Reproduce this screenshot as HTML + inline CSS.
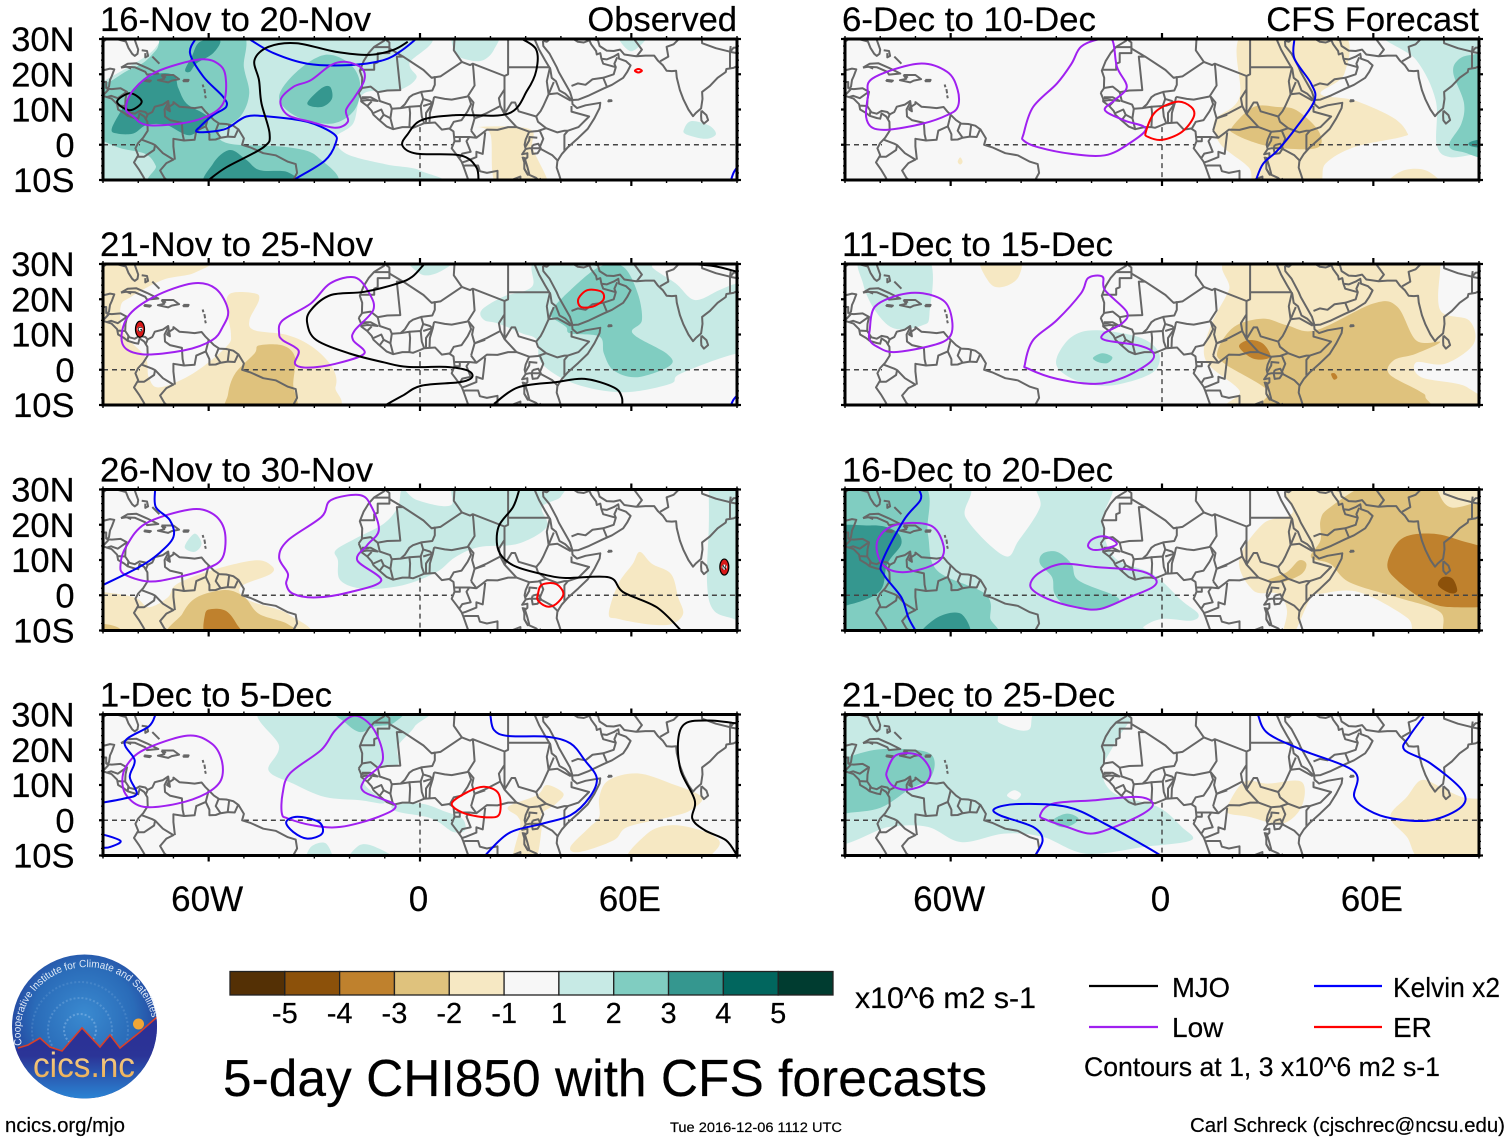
<!DOCTYPE html>
<html lang="en">
<head>
<meta charset="utf-8">
<title>5-day CHI850 with CFS forecasts</title>
<style>
html,body{margin:0;padding:0;background:#fff;}
svg{display:block;}
text{font-family:"Liberation Sans",Arial,Helvetica,sans-serif;fill:#000;stroke:#000;stroke-width:.2px;}
</style>
</head>
<body>
<svg id="chart" width="1510" height="1142" viewBox="0 0 1510 1142" xmlns="http://www.w3.org/2000/svg">
<defs>
<radialGradient id="logo-bg" cx="50%" cy="42%" r="58%"><stop offset="0" stop-color="#3a8ad0"/><stop offset="0.6" stop-color="#2a6bb8"/><stop offset="1" stop-color="#233a98"/></radialGradient>
<linearGradient id="logo-low" gradientUnits="userSpaceOnUse" x1="0" y1="1020" x2="0" y2="1100"><stop offset="0" stop-color="#2b2f95"/><stop offset="0.45" stop-color="#2b3497"/><stop offset="0.75" stop-color="#2a62b8"/><stop offset="1" stop-color="#2a86d6"/></linearGradient>
<linearGradient id="logo-word" x1="0" y1="0" x2="0" y2="1"><stop offset="0" stop-color="#f6d79a"/><stop offset="1" stop-color="#eba94a"/></linearGradient>
<clipPath id="logo-clip"><ellipse cx="84.5" cy="1026.5" rx="72.5" ry="72"/></clipPath>
<path id="logo-arc" d="M 22 1045 A 64 62 0 1 1 152 1018"/>
</defs>
<g id="panels"></g>

<g>
<ellipse cx="84.5" cy="1026.5" rx="72.5" ry="72" fill="url(#logo-bg)"/>
<g clip-path="url(#logo-clip)">
<circle cx="80" cy="1030" r="16" fill="none" stroke="#9cc4ea" stroke-opacity=".45" stroke-width="2" stroke-dasharray="2 2"/>
<circle cx="80" cy="1030" r="32" fill="none" stroke="#9cc4ea" stroke-opacity=".3" stroke-width="2" stroke-dasharray="2 2"/>
<circle cx="80" cy="1030" r="48" fill="none" stroke="#9cc4ea" stroke-opacity=".2" stroke-width="2" stroke-dasharray="2 2"/>
<polygon points="5,1052 18,1048 28,1045 40,1038 50,1047 62,1051 82,1028 100,1047 110,1035 120,1048 140,1032 157,1017 170,1010 170,1110 0,1110" fill="url(#logo-low)" stroke="none"/>
<polyline points="18,1048 28,1045 40,1038 50,1047 62,1051 82,1028 100,1047 110,1035 120,1048 140,1032 157,1017" fill="none" stroke="#d8402a" stroke-width="1.6"/>
<circle cx="138.5" cy="1024" r="5.5" fill="#f0a637"/>
</g>
<text font-size="10.5" style="fill:#dfe9f6;stroke:none"><textPath href="#logo-arc" textLength="205" lengthAdjust="spacingAndGlyphs">Cooperative Institute for Climate and Satellites</textPath></text>
<text x="84" y="1077" font-size="35" text-anchor="middle" textLength="102" lengthAdjust="spacingAndGlyphs" style="fill:url(#logo-word);stroke:none">cics.nc</text>
</g>

<g id="colorbar"></g>
<text x="855" y="1008" font-size="29.6" textLength="181" lengthAdjust="spacingAndGlyphs">x10^6 m2 s-1</text>

<g>
<line x1="1089" y1="986" x2="1158" y2="986" stroke="#000" stroke-width="2.2"/>
<text x="1172" y="997" font-size="28" textLength="58" lengthAdjust="spacingAndGlyphs">MJO</text>
<line x1="1089" y1="1027" x2="1158" y2="1027" stroke="#a020f0" stroke-width="2.2"/>
<text x="1172" y="1037" font-size="28">Low</text>
<line x1="1314" y1="986" x2="1382" y2="986" stroke="#0000ff" stroke-width="2.2"/>
<text x="1393" y="997" font-size="28" textLength="107" lengthAdjust="spacingAndGlyphs">Kelvin x2</text>
<line x1="1314" y1="1027" x2="1382" y2="1027" stroke="#ff0000" stroke-width="2.2"/>
<text x="1393" y="1037" font-size="28">ER</text>
<text x="1084" y="1076" font-size="26.5" textLength="356" lengthAdjust="spacingAndGlyphs">Contours at 1, 3 x10^6 m2 s-1</text>
</g>

<text x="223" y="1096" font-size="51.5" textLength="764" lengthAdjust="spacingAndGlyphs">5-day CHI850 with CFS forecasts</text>
<text x="5" y="1132" font-size="20.4" textLength="120" lengthAdjust="spacingAndGlyphs">ncics.org/mjo</text>
<text x="670" y="1132" font-size="14.2" textLength="172" lengthAdjust="spacingAndGlyphs">Tue 2016-12-06 1112 UTC</text>
<text x="1190" y="1132" font-size="20.3" textLength="315" lengthAdjust="spacingAndGlyphs">Carl Schreck (cjschrec@ncsu.edu)</text>
</svg>

<script>
/* ---------- axis labels and titles ---------- */
const panelTitles = ["16-Nov to 20-Nov","21-Nov to 25-Nov","26-Nov to 30-Nov","1-Dec to 5-Dec","6-Dec to 10-Dec","11-Dec to 15-Dec","16-Dec to 20-Dec","21-Dec to 25-Dec"];
const panelTags = ["Observed","","","","CFS Forecast","","",""];
const latTicks = [30,20,10,0,-10];
const latTickLabels = ["30N","20N","10N","0","10S"];
const lonTicks = [-60,0,60];
const lonTickLabels = ["60W","0","60E"];
const colorbarLabels = [-5,-4,-3,-2,-1,1,2,3,4,5];
const binColors = ["#543005","#8c510a","#bf812d","#dfc27d","#f6e8c3","#f7f7f7","#c7eae5","#80cdc1","#35978f","#01665e","#003c30"];
const seriesColors = {mjo:"#000000",low:"#a020f0",kelvin:"#0000f0",er:"#ff0000"};

/* ---------- geography (lon,lat) ---------- */
const coastLines = [
[-90,21.1,-88,21.6,-86.8,21.4,-87.5,19.5,-88,18.4,-88.3,16.5,-88.8,15.9,-87.5,15.8,-85,16,-83.2,15,-83.6,13,-83.7,11,-82.5,9.2,-81,8.8,-79.6,9.6,-78,9.3,-77.3,8.6,-76,9.3,-75.3,10.8,-73,11.4,-71.5,12.4,-71.3,11,-71.8,10,-71,9.5,-71.2,10.8,-70,11.6,-70,12.1,-68.3,10.8,-66,10.6,-64,10.4,-62,10.7,-61,9.5,-60,8.5,-58.5,7,-57,6,-55,5.9,-53,5.4,-51.5,4.3,-50,1.8,-50.5,0,-48,-0.8,-44.5,-2.4,-41,-3,-37.5,-4.8,-35.3,-5.5,-34.9,-8,-36,-10,-37,-11.5],
[-90,13.9,-87.6,13.1,-86,11.5,-85.7,10,-84,9,-83,8.2,-81,7.6,-80,7.4,-79.6,8.9,-78.3,8,-77.4,6.5,-77.3,4,-78.6,2,-80,0.5,-80.8,-1,-80,-3,-81.2,-5,-79.8,-7,-78.6,-9,-77.5,-11],
[-90,29.2,-88.5,30.3,-85.5,29.8,-83.5,29.3,-82.8,27.5,-81.7,25.8,-81,25.2,-80.2,25.8,-80,27,-81,29.8,-81.3,31],
[-84.9,21.9,-83,23,-80.5,23.1,-77.5,21.8,-74.3,20.2,-77.5,19.9,-78,20.7,-81,22,-83.5,22.1,-84.9,21.9],
[-78.3,18.4,-76.4,18.2,-76.8,17.9,-78.2,18.1,-78.3,18.4],
[-73.4,19.8,-70,19.8,-68.4,18.6,-70.5,18.2,-71.5,17.7,-74.4,18.3,-72.6,18.7,-73.4,19.8],
[-67.2,18.4,-65.7,18.4,-65.9,18,-67.1,18,-67.2,18.4],
[-79,26.8,-77.5,26.6,-77.2,25.2,-78,24.8,-78,26],
[-76,25,-75,24,-74,23],
[-61.7,17.1,-61.5,16.3],[-61.2,15.8,-61,14.6],[-61,14,-60.8,13.2],
[-83,22,-82,21.6],
[-17.4,14.7,-16.7,13,-16.7,12.3,-15,11,-13.7,9.6,-13.2,8.5,-12,7.4,-9.5,5.2,-7.6,4.4,-5,5,-3,5,-2,4.8,0,5.6,1.2,6.1,4.3,6.3,5.5,5,6.2,4.3,8.3,4.6,9.5,3.8,9.8,1,9,-1,10.5,-3,11.8,-4.8,12.3,-6,13,-8,13.7,-10,13.7,-11.5],
[-17.4,14.7,-16.5,16,-16.4,19,-17.1,21,-16,23.7,-14.6,26,-13,27.8,-10.2,29.5,-9.6,31],
[32.5,31,32.6,29.8,33.8,27,35.5,24,37,21.5,37.4,19,38.6,18,39.6,15.4,41.2,14.5,43.2,12.5,43.3,11.5,44.6,10.4,47,11.2,51.2,11.9,51,10.4,49.5,7.5,47.6,4.5,45,2,42,-0.7,40.3,-2.6,39,-4.6,38.8,-6.5,39.5,-8.5,40.3,-11],
[34.9,29.5,35,28,36.8,25.8,38.8,22,39.4,20.6,41,17.8,42.6,15,43.3,12.7,45,12.8,48,14,52,15.9,54.5,17,57.7,19,58.8,20.6,59.8,22.5,58.5,23.7,56.5,24.4,56.3,25.8,55,25,53,24.2,51.5,24.4,51.2,26,50.2,25.6,50,26.6,48.6,28.5,48,29.8],
[48.6,30,50.5,29.7,51,28,53,26.7,55,26.6,56.8,27,58,25.6,61.5,25.1,64,25.3,66.5,25.3,67.5,23.9,69,22.5,70,21,71.5,20.9,72.7,21,72.9,19,73.8,15.5,74.8,12.8,76.2,10,77.5,8.1,78.3,9,79.8,10.3,80.2,13,80.1,15,82.3,16.7,84.5,19,86.8,20.6,87,21.5,89,21.8,90,22.3,91,22.5],
[79.9,9.7,81.3,8.4,81.8,7,80.6,6,79.9,6.9,79.8,8.2,79.9,9.7],
[32,-0.1,33.6,0.3,34.3,-1,33.4,-2.4,32,-2.6,31.7,-1,32,-0.1],
[29.1,-3.4,29.6,-5,29.6,-6.8,30.6,-8.5,31,-8.2,30.4,-6,29.6,-3.5],
[34,-9.5,34.7,-11,34.3,-11.5],
[53.4,12.6,54.3,12.6,54.4,12.4,53.5,12.3,53.4,12.6],
[33.3,2,31.1,2.2,31,1.2,30,-0.5],
[-72.2,19,-72.9,19.9]
];
const borderLines = [
[-90,17.8,-89.1,17.8,-89.1,15.9],[-92,14.5,-90,15],[-90,14,-88.4,15.7],[-89,13.5,-87.7,13.9,-85.8,13.2,-83.3,15],[-85.7,11.1,-83.7,11],[-83,8.3,-82.8,9.6],[-77.9,7.2,-77.3,8.6],
[-71.5,12,-72.5,10,-72.4,8,-71,7,-67.6,6.2,-67.4,3,-67,1.2,-70,1.7,-70,-0.5,-69.6,-4.2],
[-78.9,1.4,-76,0.3,-75.2,-0.1,-73,-2.4,-70,-4.2,-72,-5.2,-73.8,-7.3,-72.5,-9.5,-70.5,-11],
[-80.3,-3.4,-78.3,-3.4,-75.5,-1.5,-75.2,-0.1],
[-67,1.2,-64,1.4,-63.5,4,-60.8,5.2,-60,8.5],[-60.8,5.2,-59.8,3,-59.8,1.4,-58,1.5,-56.6,2,-58,4,-57.2,6],
[-56.6,2,-54.6,2.3,-54.2,5.5],[-54.6,2.3,-52.6,2.2,-51.7,4.2],
[-13,27.7,-8.7,27.7,-8.7,26,-12,26,-12,23.4,-13,23,-13,21.3,-17,21.3],
[-8.7,27.3,-8.7,29,-10,30],[-8.7,27.3,-4.8,25,-6.6,25,-5.6,15.5,-9.3,15.4,-12,14.9,-14,16.5,-16.5,16.1],
[-4.8,25,1,21.2,3.3,19,4.2,19.2,4.2,17,3.5,15.4,0.3,15,-2,14.2,-3,13.5,-4.3,11.5,-5.5,10.4,-8,10.2,-8.5,11.4,-11.4,12.4,-12,14.9],
[3.3,19,5.8,19.4,11.9,23.5,14.2,22.6,15,23],[4,13.6,3.6,11.7,2.8,12.4,0.9,13,0.3,15],[4,13.6,7,13,9,12.8,13.5,13.7,15.5,16.8,15.2,21,15,23,24,19.5,24,15.7,22.4,13.2,22.8,11,19,9,15.5,7.5,14.8,10,15.2,12,13.8,13.7],
[9.8,30,9.6,26.8,11.9,23.5],[25,31.5,25,20,24,19.5],[25,22,36.9,22],
[-16.5,13.5,-14,13.5,-12,12.4,-13.7,12.6,-15,12.7,-16.7,12.4],[-16.7,13.1,-14.5,13.4],[-15,11,-13.7,12.3],
[-13.2,9,-11,10,-10.3,8.5,-11.4,7],[-10.3,8.5,-8.4,7.5,-7.6,4.4],[-8.4,7.5,-8,10.2],[-5.5,10.4,-3,10.8,-2.8,9,-3,5],[-3,10.8,0.2,11,0.5,8,1.2,6.1],[0.2,11,0.9,13],[0.9,11,2.5,11.5,3.6,11.7],[1.7,6.2,1.7,9,3.6,11.7],[2.7,6.3,2.8,9,3.6,11.7],
[8.5,4.6,9.6,6.5,11.8,7,13.5,9.5,14.5,11.5,13.8,13.7],[14.5,4,15.5,7.5],[14.5,4,16,2,14,2.2,11.3,2.2,9.8,2.2],[11.3,2.2,11.3,1,9.8,1],[14,2.2,13.2,1,14.4,-2,12,-2.5,11.2,-3.8],[16,2,18,3.5,19,4.3,22,4.2,25,5,27.4,5,31,3.7,33.5,3.9,35.8,4.7],[15.5,7.5,18.5,8.5],[22.8,11,24,8.7,27.4,5],
[36.5,14.3,35,11,34.2,9.5,33,8,33.5,6.5,35.8,4.7,39,3.5,41,4,42,4,45,5,48,8,43,9.4,43,11],[36.5,14.3,38,17.8],[36.5,14.3,39,14.6,42.8,12.5],[36.9,22,36,18,36.5,14.3],[24,8.7,26,12,27,12,28,9.5,33,8],[24,15.7,24,13,24,8.7],
[42,4,41,2.8,41,-1.6],[31,3.7,30,1.5,29.7,0,30,-1.2,31,-1,33.9,-1],[33.9,-1,37.6,-3,39.3,-4.7],[33.9,-1,35,1.7,34,4],[30,-1.2,29,-2.7,30.5,-2.4,30.5,-3.6,29.5,-4.4],[29.6,-6.8,30.5,-8.3,33,-9.4,35,-11.5],[12.3,-6,13,-5.9,16.5,-5.9,17,-7.5,19,-8,22,-7.4,22,-11],[24,-11,24,-10.8,28.5,-9,28.5,-11],[12,-5,13,-4.7,16,-3.5,16,-2,17.8,-2.6,18.5,3.5],
[34.9,29.5,36,29.2,37.5,30.5],[48,29.6,46.5,29,44.8,29.2,42,31],[43,16.7,44.8,17.4,47,17,49,18.6,52,19,53,16.6],[52,19,55,20,55.6,22,52,23,51.5,24.4],[55.6,22,55.2,23,56,24.8],
[61.6,25.2,63,27,60.9,29.8,61,31],[68.2,23.7,70.5,25,70,27.8,72,28.5,74.5,31],[80,30,80.1,28.8,84,27.4,88,26.4,88.2,28],[88,26.4,88,21.8],[88.2,26.3,90,26,92,25,92,22],[88,26.3,89,27.5,92,27.8]
];
const equatorOceanSpans = [-90,-79.5,-50,9.5,42,90];
const primeMeridianSpan = [5,-10];

/* ---------- panel 1: 16-Nov to 20-Nov ---------- */
const fills1 = [
[1,[-92,17,-78,25,-74,29,-72,32,-1,32,-3,23,-1,19,-6,15.5,-16,14.5,-19,6,-24,2,-21,-2.5,-10,-5.5,0,-7.3,0,-12,-96,-12,-96,17]],
[1,[10,32,10,26,14,24,18,24,21,27,22,32]],
[1,[75,4.5,77,6.7,82,5.5,84,3,81,1.7,75.5,3]],
[1,[56,32,60,26.5,65,32]],
[-1,[16,5,31,4.5,32,-1,36,-9.5,36,-12,22,-12,20,3]],
[-1,[73,-12,75,-9.6,77,-12]],
[2,[-71,32,-74.8,27,-78.5,23.3,-83.3,20.9,-87,18.5,-92,15,-92,2,-90,1.1,-85,-1,-78,-2.6,-75,-6,-73.5,-12,-26,-12,-29,-3.5,-37.5,-0.7,-54,0.3,-57,3.5,-51,8,-48.5,14.5,-50,22,-51,32]],
[2,[-35,20.7,-27,25.5,-20,23,-17,17.4,-18.5,10,-25,6,-35,8,-40,13.5]],
[3,[-87.5,4.6,-84.2,10.8,-81.4,15.5,-75.7,19.8,-70,19.8,-68.6,16,-66.3,11.7,-61.5,8.9,-60,7,-65.3,2.7,-72,5.6,-77.6,5.6,-81.4,3.2,-86,3.2]],
[3,[-66.7,21.2,-64.8,25,-62.5,29.2,-56.8,29.7,-58.7,26,-63.4,23.1,-65.3,20.7]],
[3,[-60,-12,-58.7,-5.3,-54,-1.5,-49.3,-4.3,-45.5,-7.2,-37.5,-7.8,-35,-12]],
[3,[-32,11.7,-28,16,-25.5,16.4,-25,13,-28,10.7]]
];
const contours1 = [
["kelvin",0,[-63.4,30.5,-65.3,26,-61.5,19.3,-55.9,13.6,-55,10.8,-58.7,8.4,-62.5,5.1,-63.4,3.7,-59.6,3.7,-54.9,4.6,-49.3,8,-43,8,-32,6.5,-24.5,3.1,-24,0.3,-27,-4.5,-35,-9.5,-37,-11]],
["kelvin",0,[-48.5,30,-41.6,26,-32,23,-20,22.6,-10.3,24,-5,26.9,-1,30.1]],
["kelvin",0,[88.3,-10,89,-8,90,-6.4]],
["mjo",1,[-86,12.2,-82.3,14.6,-79,12.2,-82.4,9.8]],
["mjo",0,[-60,-10,-55,-6.4,-44.4,-0.7,-42.7,3.1,-45,11.7,-45.7,18.3,-47,24,-43,27.8,-35,28.8,-24,26.4,-14.4,25.5,-7.6,26.9,-3.5,29.2]],
["mjo",0,[29,30,33,27,33,21,30.5,15.5,25,8.8,10,8.4,0.5,7,-3.5,3,-5,-0.2,-1,-2.5,11.4,-3,16,-6.4,16.6,-11]],
["low",1,[-83.5,10.3,-81.4,15.5,-74.8,20.7,-62.5,24.2,-56.8,22.6,-55.1,18.4,-55.9,11.7,-60.6,8,-68.2,6,-77.6,5.6,-81.4,8]],
["low",1,[-39.6,12.6,-36,16.4,-31,18.3,-25.3,22.6,-21,23.5,-16.5,21.7,-15.8,18.3,-18.5,13.6,-21,9.8,-20.5,6.5,-24,4.8,-31,6.5,-37.5,8.4]],
["er",1,[61,21,62,21.5,63,21,62,20.5]]
];
const storms1 = [];

/* ---------- panel 2: 21-Nov to 25-Nov ---------- */
const fills2 = [
[-1,[-96,32,-60,32,-64,27.5,-73,25.5,-82,20.7,-85,17.9,-84,10.3,-78,3.6,-77,-2.1,-74,-5,-64.5,-1.1,-55,6.5,-53.7,10.3,-55,17.9,-53.7,21.7,-47,21.7,-45.7,19.8,-48.4,14.1,-47,11.2,-37.5,9.8,-30.6,6.5,-25,0.8,-24,-4.9,-29,-12,-96,-12]],
[-2,[-54.5,-7,-52.5,-1.1,-47,4.6,-45.7,6.9,-39,6.9,-35.5,3.6,-36,-4,-36,-12,-54,-12]],
[1,[17.5,16.9,23.6,20.7,31.8,23.6,34.5,32,65.8,32,66,29,72.6,24.5,78,19.8,85,22.6,90,24.5,96,25,96,3,90,4.6,74,-1.1,71,-4,57.7,-6.4,44,-4,34.6,1.7,33.2,8.4,29,10.3,22.3,13.1,18.2,14.1]],
[1,[-3.5,32,0.5,27,6,28,10,32]],
[2,[37.3,16.9,42.7,22.6,51,29.2,57.7,29.2,61.8,21.7,63,14,60.4,10.3,70,4.6,71,1.2,61.8,-2.1,55,-0.2,52.2,4.6,51,9.4,42.7,10.3,41.4,12.2,37.3,15]]
];
const contours2 = [
["low",1,[-84.5,7.4,-83,15,-75.5,20.7,-64.5,24.5,-58,23,-54.5,16.9,-56,12.2,-59,8.4,-67,5.5,-79,4.4]],
["low",1,[-40,10.3,-39,14,-31,18.8,-25.5,24.5,-18.5,26.2,-14.4,21.7,-13.3,16.9,-18.5,11.2,-19,8.4,-15.8,4.6,-24,1.7,-32,0.6,-35.5,1.7,-34.5,5.5,-39,8.4]],
["mjo",0,[1.2,30,-2.2,26.4,-6.3,24.5,-15.8,22.1,-25.3,21.2,-31,16.9,-32,13.1,-29.4,8.4,-20,4.6,-10.3,2.1,-3.5,0.8,7.3,0.8,13.5,-0.2,14.8,-2.1,11.4,-3.5,0.5,-4.5,-5,-7.4,-10.3,-10.3]],
["mjo",0,[21,-9.7,27.8,-5,38.6,-3.5,46.8,-2.6,55,-5,57.3,-7.8,57.3,-11]],
["mjo",0,[76.7,30,83.5,29.4,89.7,27.9]],
["kelvin",0,[88.3,-10,89,-8.5,90,-7.3]],
["er",1,[45,20.2,47.6,22.6,51.6,22.1,52,19.8,49,17.9,45.6,17.9]]
];
const storms2 = [[-79.5,11.5,"G"]];

/* ---------- panel 3: 26-Nov to 30-Nov ---------- */
const fills3 = [
[-1,[-96,1,-90,0.9,-81,-0.6,-77,-3.4,-71.6,-0.6,-69,3.2,-59.4,7,-47,9.9,-42.3,8.5,-42.3,6.1,-51,2.3,-48.4,-1.5,-37.5,-5.3,-35,-12,-96,-12]],
[-2,[-70,-12,-67.5,-5.3,-63.4,-0.6,-55.2,1.5,-49.8,-0.6,-45.7,-5.3,-37.5,-8.2,-36,-12]],
[-2,[-92,-8.3,-86,-9,-84,-12,-92,-12]],
[-3,[-61,-5.3,-59,-3.9,-55,-4.5,-52,-8.2,-50.5,-12,-60.5,-12]],
[-1,[53.6,-5.3,56.3,3.2,60.4,8.9,62.4,12.3,65.9,8.9,71.3,6,73.3,-0.6,74.7,-5.3,71.3,-8.2,64.5,-8.2,56.3,-6.7]],
[1,[-24,12.7,-18.5,16,-10.3,20.3,-6.3,25,-5,30,-0.8,27,8.7,25.5,11.4,32,38.6,32,40,28,34.6,25,36,19.4,27.8,14.6,16.9,13.7,10,10.8,4.6,6.5,-5,2.8,-15.8,1.8,-22.6,4.2,-23.3,9.9]],
[1,[82,32,96,32,96,-12,90,-7.2,83.5,-4.4,81.5,3.2,82,19.5,82,29]],
[1,[-66.8,13.7,-64,17.5,-62,14.6,-64,12.3]]
];
const contours3 = [
["low",1,[-83.5,13.7,-78,20.3,-65.5,24.3,-59,23.2,-55.5,18.4,-56,10.8,-60.7,7.5,-69,5.1,-77,3.9,-84,6,-85,8.9]],
["low",1,[-40,10.8,-37.5,15.6,-28,22.2,-25.3,27,-17,28.4,-13.7,25,-11.7,18.4,-15,14.2,-17.8,9.9,-11,4.2,-19.9,0.9,-29.4,-0.6,-36,0.4,-38,3.2,-37.5,6.1]],
["kelvin",0,[-75.2,30,-75,25,-71,21.3,-70,16.5,-74.3,11.7,-79.7,8,-90,2.9]],
["mjo",0,[28.2,30,26.4,25,22.3,19.4,22.3,12.7,26.4,8.5,34.6,6,41.4,4.9,53.6,5.1,57.7,0.9,67.2,-3.4,74,-9.9]],
["er",1,[33.5,0.4,34.6,3,38.6,3.2,40.7,0.4,38.6,-2.5,36,-3.2,33.5,-1.5]]
];
const storms3 = [[86.4,8,"N"]];

/* ---------- panel 4: 1-Dec to 5-Dec ---------- */
const fills4 = [
[1,[-44,32,-40,21,-43,14.2,-36,10.4,-27,6.6,-17,5.7,-10,5,-15.8,10.4,-13,14.7,-6.3,15.7,-6.3,20.9,-1.5,26.6,0.5,32]],
[1,[-7.6,4.3,0.5,4.7,7.3,2.4,12,0.5,12.8,-2.8,9.4,-3.3,3.3,0.5,-6.3,2.4]],
[2,[-24.6,32,-21,27.5,-17,25,-13,26.6,-7.6,27.5,-5,32]],
[1,[-32,-12,-31,-7.6,-26.7,-6.6,-25,-12]],
[1,[-20,-12,-17,-7,-11.7,-8,-6.3,-12]],
[-1,[50.9,6.6,53.6,11.4,61.8,13.3,71.3,10.4,80,6.6,76.7,2.8,71.3,1,59,-1.9,55,-5.7,45.4,-9,42.7,-7.6,48.2,-1.9,50.9,1]],
[-1,[59,-12,64.5,-3.8,71.3,-1.4,79.5,-2.8,84.9,-5.7,83.5,-9,78,-12]],
[-1,[25,3.8,33.2,7.1,36,10,40.7,7.6,38.6,4.7,34.6,1.9,34.6,-1.9,32.5,-12,26.4,-12,28.4,-1.9,27.8,1]]
];
const contours4 = [
["low",1,[-83.5,15.2,-78.4,20,-66,24,-59.2,21.8,-56.3,17,-56.5,11.4,-60.7,7.6,-69,4.7,-78.4,3.8,-83,6.6,-84.5,10.4]],
["low",1,[-39.2,1.9,-39,7.6,-36.9,13.3,-28,20,-24,25.6,-18.5,29.7,-13,25.6,-10.6,17,-15.8,11.4,-15.8,8,-7,4.3,-11.7,1,-22.6,-1.9,-30.7,-1.4,-37.5,0.5]],
["kelvin",0,[-75.2,29.7,-77,26.6,-83.8,22.3,-81,17,-82.4,12.3,-80.4,7.6,-83.8,6.2,-90,5]],
["kelvin",0,[20,29.7,21,25.6,25,23.9,36,23.7,42.7,21.8,46.8,17,50.2,11.9,48.2,6.6,42.7,1.4,34.6,-1,25,-3.8,17.6,-11]],
["kelvin",1,[-38,-0.5,-34.8,1,-28.7,-0.5,-27.8,-3.8,-32,-5.2,-36,-3.3]],
["kelvin",0,[-90,-4,-85,-5.9,-88,-7.6,-90,-7.8]],
["mjo",0,[89.7,27.5,82,28.3,75.4,27.5,73.3,22.8,74,14.2,78,5.7,77.3,0.5,80.8,-2.8,86.9,-5.7,90,-10]],
["er",1,[9,4.7,13.5,8,18.2,9.5,22.3,7.6,22.6,1.9,19.6,0.8,12.8,1.9]]
];
const storms4 = [];

/* ---------- panel 5: 6-Dec to 10-Dec ---------- */
const fills5 = [
[-1,[23.3,32,22,13.5,15,7,16.5,0.3,24.6,-6.4,27.3,-12,43.7,-12,46.4,-5.4,54.5,-0.7,68,2.2,69.5,3.6,65.4,7.8,54.5,12.6,45,14.5,51.8,20.2,50.5,32]],
[-2,[19.9,5,26,10.7,32.8,10.7,38.2,9.8,44.4,4,44.4,-0.7,35.5,-1.1,27.3,0.3,20.5,3.1]],
[-1,[-58,-4.8,-57.3,-3.6,-56.6,-4.8,-57.3,-5.6]],
[-1,[64,-12,68,-7.5,75,-7.3,79,-12]],
[1,[62.7,32,72.2,24,77.7,12.6,78,0,81.7,-3.5,90,-2.6,96,-2.6,96,32]],
[2,[82.7,20.3,84,24,88,25.5,96,25,96,-2,85,-2,81.5,0,85,6,85.7,12]],
[3,[88,1,96,2,96,-1,88,-0.5]]
];
const contours5 = [
["low",1,[-83.5,13.6,-82.2,18.8,-69.3,23,-61,20.7,-58,15.5,-58,10.7,-61,8.4,-67.9,6,-77.4,4.3,-82.2,4.8,-84,7.9]],
["low",1,[-39.3,3.1,-36.6,10.7,-29.8,17.4,-25.7,23,-23,27.8,-17.6,30,-14.1,29.7,-12.8,22.1,-10,16.4,-13.5,12.6,-16.2,9.8,-10.7,6.9,-4.6,4.6,-9.4,0.3,-16.2,-3,-25.7,-2.6,-35.2,-0.7,-39.3,1.2]],
["er",1,[-4.6,3.6,-1.9,9.3,4.2,12.2,8.3,10.7,9,7.9,5.6,3.6,0.1,1.4,-3.9,2.2]],
["kelvin",0,[37.6,30,37.6,24.5,42.3,17.4,43.3,12.6,38.2,5,32.8,-1.6,28.7,-5.4,26.7,-10]]
];
const storms5 = [];

/* ---------- panel 6: 11-Dec to 15-Dec ---------- */
const fills6 = [
[-1,[22,32,19,22.6,13.7,12.2,12.4,2.7,22,-5.9,22,-12,87.4,-12,86.7,-5,73.6,-2.1,72.2,2.1,80.4,1.7,88.5,7.4,87.2,14,79,16.9,79,29,79,32]],
[-1,[-51.6,32,-48.8,24.5,-44.8,23.6,-40.7,26.4,-40.7,32]],
[-2,[15.8,5.5,20.5,12.2,28.7,14.5,35.5,12.6,43.7,11.2,60,18.8,66.8,17.9,72.2,8.3,79,7.9,72,4.5,65.8,2.7,64.5,-1.2,72.8,-5.9,74.8,-7.8,72.8,-12,30,-12,30,-5.9,17.8,1.7]],
[-3,[21.9,6.5,24.6,8.4,28.7,7.4,30.7,3.6,26,3.1]],
[-3,[48,-1.2,49,-1,49.8,-2.2,48.8,-2.8]],
[1,[-85,32,-66.7,32,-66,16,-68,12.6,-76,11.7,-81.5,16.9,-84.9,24.5]],
[1,[-29.8,3.6,-25.7,9.3,-18.9,11.2,-6.7,9.3,-1.2,5.5,-1.2,0.8,-5.3,-2.1,-14.8,-4.5,-23,-3.5,-29,-0.2]],
[2,[-19.6,3.4,-16.9,4.7,-14.1,3.6,-15.5,1.9,-18.2,2.2]]
];
const contours6 = [
["low",1,[-83,11.2,-81.5,17.9,-74.7,21.2,-67.9,21.7,-61.7,19.3,-59.6,14,-60.3,9.3,-65.2,6.9,-76,5,-80.8,6.5,-83,8.4]],
["low",1,[-38.9,1.7,-36.6,8.4,-29.8,14.1,-23,21.7,-21,26,-16.9,26.4,-16.2,22.6,-10,16.4,-11.4,13.1,-16.5,10.3,-16.2,8.4,-6.7,6.9,-2.6,5,-3.3,2.2,-10.7,-2.1,-18.9,-4,-29.8,-2.6,-38,0.3]]
];
const storms6 = [];

/* ---------- panel 7: 16-Dec to 20-Dec ---------- */
const fills7 = [
[1,[-96,32,-57,32,-55.7,22,-44.8,11.2,-40.7,15.5,-34.6,25,-34.6,32,-14.8,32,-16.9,21,-13.5,10.7,-2.6,6,5.6,-1.5,10.3,-5.3,8.3,-7.2,0.1,-6.7,-5.3,-9,-6.7,-12,-96,-12]],
[2,[-96,32,-68.6,32,-66.5,17.5,-63.8,7,-50.2,0.4,-48.8,-6.3,-50.2,-12,-96,-12]],
[2,[-34.6,8.9,-33.9,11.8,-29.8,12.3,-25.7,8.9,-23.7,4.2,-13.5,-0.1,-12.8,-2,-18.9,-3.9,-27,-2.9,-30.5,0.4,-31.2,5.1]],
[3,[-96,17.5,-82.9,19.8,-76,18.4,-74,14.6,-78,8.9,-80,1.3,-88.3,-2.5,-96,-2.5]],
[3,[-68.6,-12,-63.8,-6.3,-57,-5.3,-55,-12]],
[-1,[21.9,9.9,26,1.3,32.8,0.4,35.5,-4.4,34.1,-12,36.9,-12,42.3,-0.6,45,0.4,55.9,0.9,69.5,-6.3,73.6,-12,96,-12,96,32,39.5,32,36.9,23.2,28.7,20.3]],
[-2,[45,21.3,47.8,25,60,32,75.6,32,81.8,25,96,24,96,-12,81,-12,79,-4.8,66.8,-0.6,53.2,3.7,47.8,8.9,42.3,10.8,45,15.6]],
[-2,[30,4.2,35.5,6.6,38.9,9.9,41,8.9,39.6,6,34.1,3.7]],
[-3,[64,8.9,68,16,76.3,17.5,84.5,15.6,96,10.8,96,-1.6,83,-3.4,75,-1.6,66.8,4.2]],
[-4,[78.4,2.8,79.7,5.1,82.5,4.7,83.8,1.3,81.8,0.6]]
];
const contours7 = [
["low",1,[-81,14.6,-78,18.9,-72,20.5,-65,19.4,-62,14,-63,10,-68,7.5,-74.7,6.6,-79.5,8.9]],
["low",1,[-21,14.1,-19.6,16,-16.2,16.7,-12.8,14.6,-16.2,13.2,-19.6,12.9]],
["low",1,[-37.3,2.3,-35.2,6.1,-28.4,8.9,-18.9,8,-6.7,7,-1.9,4.7,-2.6,2.3,-9.4,-0.6,-17.6,-3.9,-24.4,-3.4,-32.5,-1]],
["kelvin",0,[-69,30,-68.6,27,-73.3,21.3,-79.5,9.4,-78.8,5.6,-74,-0.6,-72,-6.3,-70,-10]]
];
const storms7 = [];

/* ---------- panel 8: 21-Dec to 25-Dec ---------- */
const fills8 = [
[1,[-96,32,-51.6,32,-46,27.5,-38,25.6,-34,32,-9.4,32,-13.5,21.8,-17,14.2,-13.5,7.6,-1.2,3.8,5.6,-1.9,8.3,-5.7,-5.3,-7.6,-21.6,-9.5,-33.9,-4.7,-44.8,-3.8,-57,-6.2,-66.5,-1.9,-77.4,-1.9,-96,-5.2]],
[0,[-44,7,-42,8.5,-40,7.4,-41.5,5.8]],
[2,[-96,15,-89,18,-79,20.2,-66,19,-65.5,12.4,-72,8.6,-80,3.5,-89.5,2,-96,1]],
[2,[-31,0,-27,1.9,-23.7,0.5,-25.7,-1.4,-29,-1.9]],
[-1,[18.5,3.8,23.3,10.9,30,10.4,39.6,10.9,39.6,3.8,34,-1,24.6,1,19,1.9]],
[-1,[64.8,1,69.5,6.6,73.6,11.4,79,9.5,85.1,6.6,96,3.8,96,-12,75,-12,69.5,-4.7]]
];
const contours8 = [
["low",1,[-78,14.2,-75.4,18.5,-69.3,18.5,-65.8,14.2,-67.2,10.4,-72,8.7,-76,9.5,-78,11.9]],
["low",1,[-34.6,1.4,-31,4.7,-18.9,5.7,-6.7,6.6,-2.6,4.7,-5.3,1.9,-13.5,-1.9,-20.3,-3.8,-27,-1.9,-32.5,0]],
["kelvin",0,[-36.6,-11,-33.9,-5.7,-36.6,-1.9,-46,1.4,-47.5,3.3,-40.7,4.6,-27,3.8,-16.2,-1,-1.2,-9.5,0,-11]],
["kelvin",0,[27.3,29.7,30,24.7,39.6,20,54.6,13.8,54.6,6.6,58.7,2.8,65.4,0.5,76.3,0,85,3.8,85.2,8.5,76.3,16.1,68.8,20,70.2,23.8,74.3,29.4]]
];
const storms8 = [];

const allFills = [fills1,fills2,fills3,fills4,fills5,fills6,fills7,fills8];
const allContours = [contours1,contours2,contours3,contours4,contours5,contours6,contours7,contours8];
const allStorms = [storms1,storms2,storms3,storms4,storms5,storms6,storms7,storms8];

/* ---------- layout ---------- */
const NS = "http://www.w3.org/2000/svg";
const columnLefts = [103,845];
const rowTops = [39,264,489.5,714.5];
const panelW = 634, panelH = 141;
const lonMin = -90, lonMax = 90, latMin = -10, latMax = 30;
const titleWidths = [271,273,273,232,254,271,271,273];

function mk(tag, parent, attrs){
  const el = document.createElementNS(NS, tag);
  for (const k in attrs) el.setAttribute(k, attrs[k]);
  parent.appendChild(el);
  return el;
}
function pairs(flat, xs, ys){
  const out = [];
  for (let i = 0; i < flat.length; i += 2) out.push([xs(flat[i]), ys(flat[i+1])]);
  return out;
}
function smoothPath(p, closed){
  const n = p.length;
  let d = "M" + p[0][0].toFixed(1) + " " + p[0][1].toFixed(1);
  const last = closed ? n : n - 1;
  for (let i = 0; i < last; i++){
    const a = closed ? p[(i-1+n)%n] : p[Math.max(i-1,0)];
    const b = p[i];
    const c = p[(i+1)%n];
    const e = closed ? p[(i+2)%n] : p[Math.min(i+2,n-1)];
    const c1x = b[0]+(c[0]-a[0])/6, c1y = b[1]+(c[1]-a[1])/6;
    const c2x = c[0]-(e[0]-b[0])/6, c2y = c[1]-(e[1]-b[1])/6;
    d += "C"+c1x.toFixed(1)+" "+c1y.toFixed(1)+" "+c2x.toFixed(1)+" "+c2y.toFixed(1)+" "+c[0].toFixed(1)+" "+c[1].toFixed(1);
  }
  return closed ? d + "Z" : d;
}
function linePath(p){
  return "M" + p.map(q => q[0].toFixed(1)+" "+q[1].toFixed(1)).join("L");
}

const root = document.getElementById("panels");
const defs = document.querySelector("#chart defs");

for (let idx = 0; idx < 8; idx++){
  const col = idx < 4 ? 0 : 1;
  const row = idx % 4;
  const x0 = columnLefts[col], y0 = rowTops[row];
  const xScale = lon => x0 + (lon - lonMin) * panelW / (lonMax - lonMin);
  const yScale = lat => y0 + (latMax - lat) * panelH / (latMax - latMin);

  const g = mk("g", root, {});
  
  

  const clip = mk("clipPath", defs, {id:"clip-"+idx});
  mk("rect", clip, {x:x0, y:y0, width:panelW, height:panelH});

  const plot = mk("g", g, {"clip-path":"url(#clip-"+idx+")"});
  
  

  const bg = mk("rect", plot, {x:x0, y:y0, width:panelW, height:panelH, fill:binColors[5]});
  
  

  for (const f of allFills[idx]){
    const shape = mk("path", plot, {d:smoothPath(pairs(f[1],xScale,yScale),true), fill:binColors[f[0]+5], stroke:"none"});
    
    
  }

  for (let s = 0; s < equatorOceanSpans.length; s += 2){
    const eq = mk("line", plot, {x1:xScale(equatorOceanSpans[s]), x2:xScale(equatorOceanSpans[s+1]), y1:yScale(0), y2:yScale(0), stroke:"#444", "stroke-width":1.4, "stroke-dasharray":"5 4"});
    
    
  }
  const pm = mk("line", plot, {x1:xScale(0), x2:xScale(0), y1:yScale(primeMeridianSpan[0]), y2:yScale(primeMeridianSpan[1]), stroke:"#444", "stroke-width":1.4, "stroke-dasharray":"5 4"});
  
  

  const geo = mk("g", plot, {fill:"none", stroke:"#666", "stroke-width":2, "stroke-linejoin":"round"});
  
  
  for (const c of coastLines.concat(borderLines)){
    mk("path", geo, {d:linePath(pairs(c,xScale,yScale))});
  }

  for (const c of allContours[idx]){
    const line = mk("path", plot, {d:smoothPath(pairs(c[2],xScale,yScale), c[1]===1), fill:"none", stroke:seriesColors[c[0]], "stroke-width":2});
    
    
  }

  for (const s of allStorms[idx]){
    const sx = xScale(s[0]), sy = yScale(s[1]);
    const body = mk("ellipse", plot, {cx:sx, cy:sy, rx:4.5, ry:8, fill:"#d81818", stroke:"#000", "stroke-width":1.2});
    
    
    const eye = mk("circle", plot, {cx:sx, cy:sy, r:2.6, fill:"#fff"});
    
    
    const lab = mk("text", plot, {x:sx, y:sy+2.2, "font-size":6, "text-anchor":"middle"});
    
    
    lab.textContent = s[2];
  }

  const ticks = mk("g", g, {stroke:"#000", fill:"none"});
  
  
  for (let lon = lonMin; lon <= lonMax; lon += 10){
    const major = lon % 60 === 0;
    const len = major ? 6 : 3;
    const w = major ? 2.2 : 1.4;
    mk("line", ticks, {x1:xScale(lon), x2:xScale(lon), y1:y0, y2:y0-len, "stroke-width":w});
    mk("line", ticks, {x1:xScale(lon), x2:xScale(lon), y1:y0+panelH, y2:y0+panelH+len, "stroke-width":w});
  }
  for (let lat = latMin; lat <= latMax; lat += 2){
    const major = lat % 10 === 0;
    const len = major ? 4 : 2;
    const w = major ? 2.2 : 1.2;
    mk("line", ticks, {x1:x0, x2:x0-len, y1:yScale(lat), y2:yScale(lat), "stroke-width":w});
    mk("line", ticks, {x1:x0+panelW, x2:x0+panelW+len, y1:yScale(lat), y2:yScale(lat), "stroke-width":w});
  }

  const frame = mk("rect", g, {x:x0, y:y0, width:panelW, height:panelH, fill:"none", stroke:"#000", "stroke-width":3});
  
  

  const title = mk("text", g, {x:x0-3, y:y0-8, "font-size":34.5, textLength:titleWidths[idx], lengthAdjust:"spacingAndGlyphs"});
  
  
  title.textContent = panelTitles[idx];

  if (panelTags[idx]){
    const tag = mk("text", g, {x:x0+panelW, y:y0-8, "font-size":34.5, "text-anchor":"end"});
    
    
    tag.textContent = panelTags[idx];
  }

  if (col === 0){
    latTicks.forEach((lat,i) => {
      const t = mk("text", g, {x:74.5, y:yScale(lat)+12.2, "font-size":34.5, "text-anchor":"end"});
      
      
      t.textContent = latTickLabels[i];
    });
  }
  if (row === 3){
    lonTicks.forEach((lon,i) => {
      const t = mk("text", g, {x:xScale(lon)-1.5, y:911, "font-size":35, "text-anchor":"middle"});
      
      
      t.textContent = lonTickLabels[i];
    });
  }
}

/* ---------- colorbar ---------- */
const cb = document.getElementById("colorbar");
const cbLeft = 230, cbTop = 971.5, cbBoxW = (833 - 230) / binColors.length, cbBoxH = 23.5;
binColors.forEach((color,i) => {
  const box = mk("rect", cb, {x:cbLeft+i*cbBoxW, y:cbTop, width:cbBoxW, height:cbBoxH, fill:color, stroke:"#222", "stroke-width":1.3});
  
  
});
colorbarLabels.forEach((v,i) => {
  const t = mk("text", cb, {x:cbLeft+(i+1)*cbBoxW, y:1023, "font-size":29, "text-anchor":"middle"});
  
  
  t.textContent = String(v);
});
</script>
</body>
</html>
